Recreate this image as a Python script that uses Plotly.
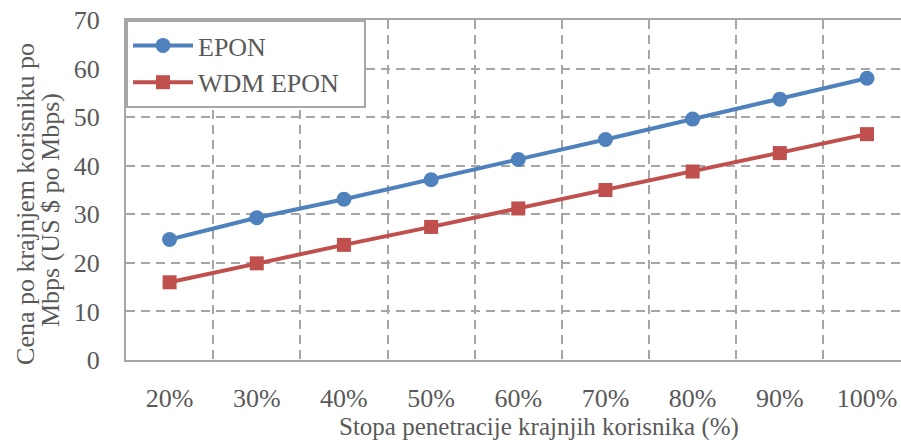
import plotly.graph_objects as go

categories = ["20%", "30%", "40%", "50%", "60%", "70%", "80%", "90%", "100%"]
epon = [24.8, 29.3, 33.1, 37.1, 41.3, 45.4, 49.6, 53.7, 58.0]
wdm_epon = [16.0, 19.9, 23.7, 27.4, 31.2, 35.0, 38.8, 42.6, 46.5]
y_ticks = [0, 10, 20, 30, 40, 50, 60, 70]

FONT = "Liberation Serif, Times New Roman, serif"
TXT = "#595959"
GRID = "#A6A6A6"

fig = go.Figure()
fig.add_trace(go.Scatter(
    x=categories, y=epon, name="EPON", mode="lines+markers",
    line=dict(color="#4F81BD", width=4),
    marker=dict(symbol="circle", size=15, color="#4F81BD"),
))
fig.add_trace(go.Scatter(
    x=categories, y=wdm_epon, name="WDM EPON\u00a0\u00a0\u00a0", mode="lines+markers",
    line=dict(color="#C0504D", width=4),
    marker=dict(symbol="square", size=14, color="#C0504D"),
))

fig.update_layout(
    width=901, height=440,
    margin=dict(l=126, r=0, t=20, b=80, autoexpand=False),
    paper_bgcolor="white", plot_bgcolor="white",
    font=dict(family=FONT, size=24, color=TXT),
    showlegend=True,
    legend=dict(
        x=0, y=1, xanchor="left", yanchor="top",
        bgcolor="white", bordercolor=GRID, borderwidth=2,
        font=dict(family=FONT, size=26, color=TXT),
        itemwidth=60, tracegroupgap=4,
    ),
    xaxis=dict(
        type="category", range=[-0.5, 8.39],
        tickson="boundaries", automargin=False,
        showgrid=True, gridcolor=GRID, griddash="9px,6px", gridwidth=2,
        showline=True, linecolor=GRID, linewidth=2, mirror=True,
        ticks="", ticklabelstandoff=14,
        tickfont=dict(family=FONT, size=26, color=TXT),
        zeroline=False,
    ),
    yaxis=dict(
        range=[0, 70], tickvals=y_ticks, automargin=False,
        showgrid=True, gridcolor=GRID, griddash="9px,6px", gridwidth=2,
        showline=True, linecolor=GRID, linewidth=2,
        ticks="", ticklabelstandoff=19,
        tickfont=dict(family=FONT, size=26, color=TXT),
        zeroline=False,
    ),
    annotations=[
        dict(
            text="Cena po krajnjem korisniku po",
            xref="paper", yref="paper", x=-0.1290, y=0.459,
            xanchor="center", yanchor="middle", textangle=-90, showarrow=False,
            font=dict(family=FONT, size=26, color=TXT),
        ),
        dict(
            text="Mbps (US $ po Mbps)",
            xref="paper", yref="paper", x=-0.0981, y=0.441,
            xanchor="center", yanchor="middle", textangle=-90, showarrow=False,
            font=dict(family=FONT, size=26, color=TXT),
        ),
        dict(
            text="Stopa penetracije krajnjih korisnika (%)",
            xref="paper", yref="paper", x=0.5335, y=-0.197,
            xanchor="center", yanchor="middle", showarrow=False,
            font=dict(family=FONT, size=25, color=TXT),
        ),
    ],
)

fig.write_html("out.html", config={"displayModeBar": False},
               post_script="document.body.style.margin='0';")
